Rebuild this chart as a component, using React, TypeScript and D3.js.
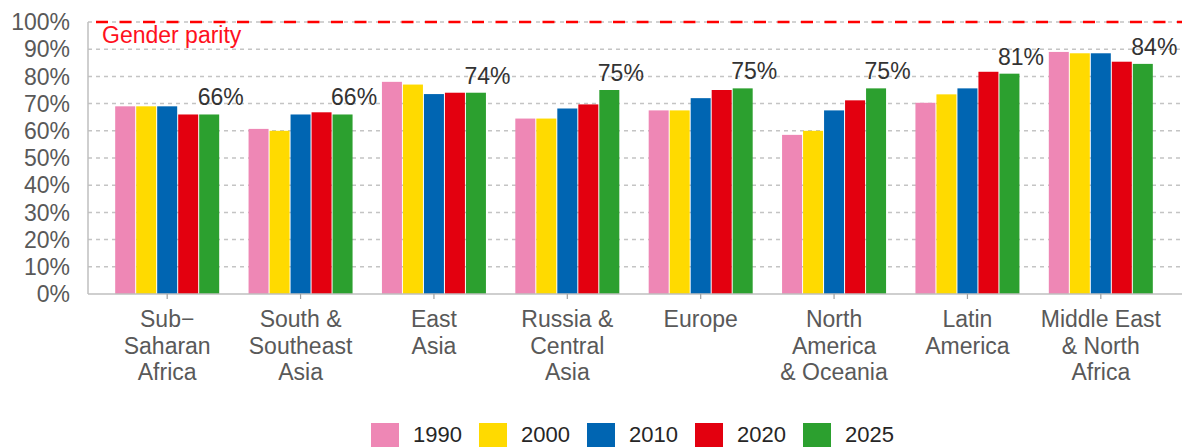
import React from "react";
import * as d3 from "d3";

const categories: string[][] = [
  ["Sub\u2212", "Saharan", "Africa"],
  ["South &", "Southeast", "Asia"],
  ["East", "Asia"],
  ["Russia &", "Central", "Asia"],
  ["Europe"],
  ["North", "America", "& Oceania"],
  ["Latin", "America"],
  ["Middle East", "& North", "Africa"],
];
const years = ["1990", "2000", "2010", "2020", "2025"];
const s1990 = [69, 60.7, 78, 64.5, 67.5, 58.5, 70.3, 89];
const s2000 = [69, 60, 77, 64.5, 67.5, 60, 73.4, 88.5];
const s2010 = [69, 66, 73.5, 68.2, 72, 67.5, 75.6, 88.5];
const s2020 = [66, 66.8, 74, 69.7, 75, 71.2, 81.7, 85.4];
const s2025 = [66, 66, 74, 75, 75.6, 75.6, 81, 84.6];
const labels2025 = ["66%", "66%", "74%", "75%", "75%", "75%", "81%", "84%"];
const yTicks = [0, 10, 20, 30, 40, 50, 60, 70, 80, 90, 100];
const colors = ["#EE87B5", "#FFDA00", "#0065B2", "#E3000F", "#2CA02F"];
const series = [s1990, s2000, s2010, s2020, s2025];

const W = 1182;
const H = 447;
const FONT = "'Liberation Sans', Arial, sans-serif";

export default function App() {
  const y = d3.scaleLinear().domain([0, 100]).range([294, 22]);
  const x = d3
    .scaleBand<number>()
    .domain(d3.range(categories.length))
    .range([100.5, 1167.5])
    .padding(0);
  const inner = d3.scaleBand<string>().domain(years).range([-52.5, 52.5]).padding(0);
  const axisLeft = 88;
  const fmt = (v: number) => `${v}%`;

  return (
    <svg
      width={W}
      height={H}
      style={{ position: "absolute", left: 0, top: 0, background: "#fff" }}
      fontFamily={FONT}
    >
      {/* gridlines */}
      {yTicks.slice(1).map((t) => (
        <line
          key={t}
          x1={axisLeft}
          x2={W}
          y1={y(t)}
          y2={y(t)}
          stroke="#C4C4C4"
          strokeWidth={1.5}
          strokeDasharray="4,4"
        />
      ))}
      {/* bars */}
      {categories.map((_, i) => {
        const cx = (x(i) as number) + x.bandwidth() / 2;
        return (
          <g key={i}>
            {years.map((yr, j) => (
              <rect
                key={yr}
                x={cx + (inner(yr) as number) + 0.5}
                y={y(series[j][i])}
                width={inner.bandwidth() - 1}
                height={y(0) - y(series[j][i])}
                fill={colors[j]}
              />
            ))}
            <text
              x={cx + (inner("2025") as number) - 1}
              y={y(s2025[i]) - 9}
              fontSize={23}
              fill="#333333"
            >
              {labels2025[i]}
            </text>
          </g>
        );
      })}
      {/* parity line */}
      <line
        x1={axisLeft + 8}
        x2={W}
        y1={y(100)}
        y2={y(100)}
        stroke="#FF0000"
        strokeWidth={2.5}
        strokeDasharray="12,11.5"
      />
      <text x={102} y={43} fontSize={23} fill="#FF1020">
        Gender parity
      </text>
      {/* axes */}
      <line x1={axisLeft} x2={axisLeft} y1={y(100)} y2={y(0)} stroke="#BFBFBF" strokeWidth={1.5} />
      <line x1={axisLeft} x2={W} y1={y(0)} y2={y(0)} stroke="#BFBFBF" strokeWidth={1.5} />
      {categories.map((_, i) => {
        const cx = (x(i) as number) + x.bandwidth() / 2;
        return <line key={i} x1={cx} x2={cx} y1={y(0)} y2={y(0) + 5} stroke="#A0A0A0" strokeWidth={1.2} />;
      })}
      {yTicks.map((t) => (
        <text
          key={t}
          x={70}
          y={y(t)}
          dy="0.36em"
          textAnchor="end"
          fontSize={23}
          fill="#595959"
        >
          {fmt(t)}
        </text>
      ))}
      {categories.map((lines, i) => {
        const cx = (x(i) as number) + x.bandwidth() / 2;
        return (
          <text key={i} textAnchor="middle" fontSize={23} fill="#595959">
            {lines.map((ln, k) => (
              <tspan key={k} x={cx} y={327 + k * 26.7}>
                {ln}
              </tspan>
            ))}
          </text>
        );
      })}
      {/* legend */}
      {years.map((yr, j) => {
        const lx = 371 + j * 108;
        return (
          <g key={yr}>
            <rect x={lx} y={423} width={28} height={24} fill={colors[j]} />
            <text x={lx + 42} y={442} fontSize={22} fill="#262626">
              {yr}
            </text>
          </g>
        );
      })}
    </svg>
  );
}
